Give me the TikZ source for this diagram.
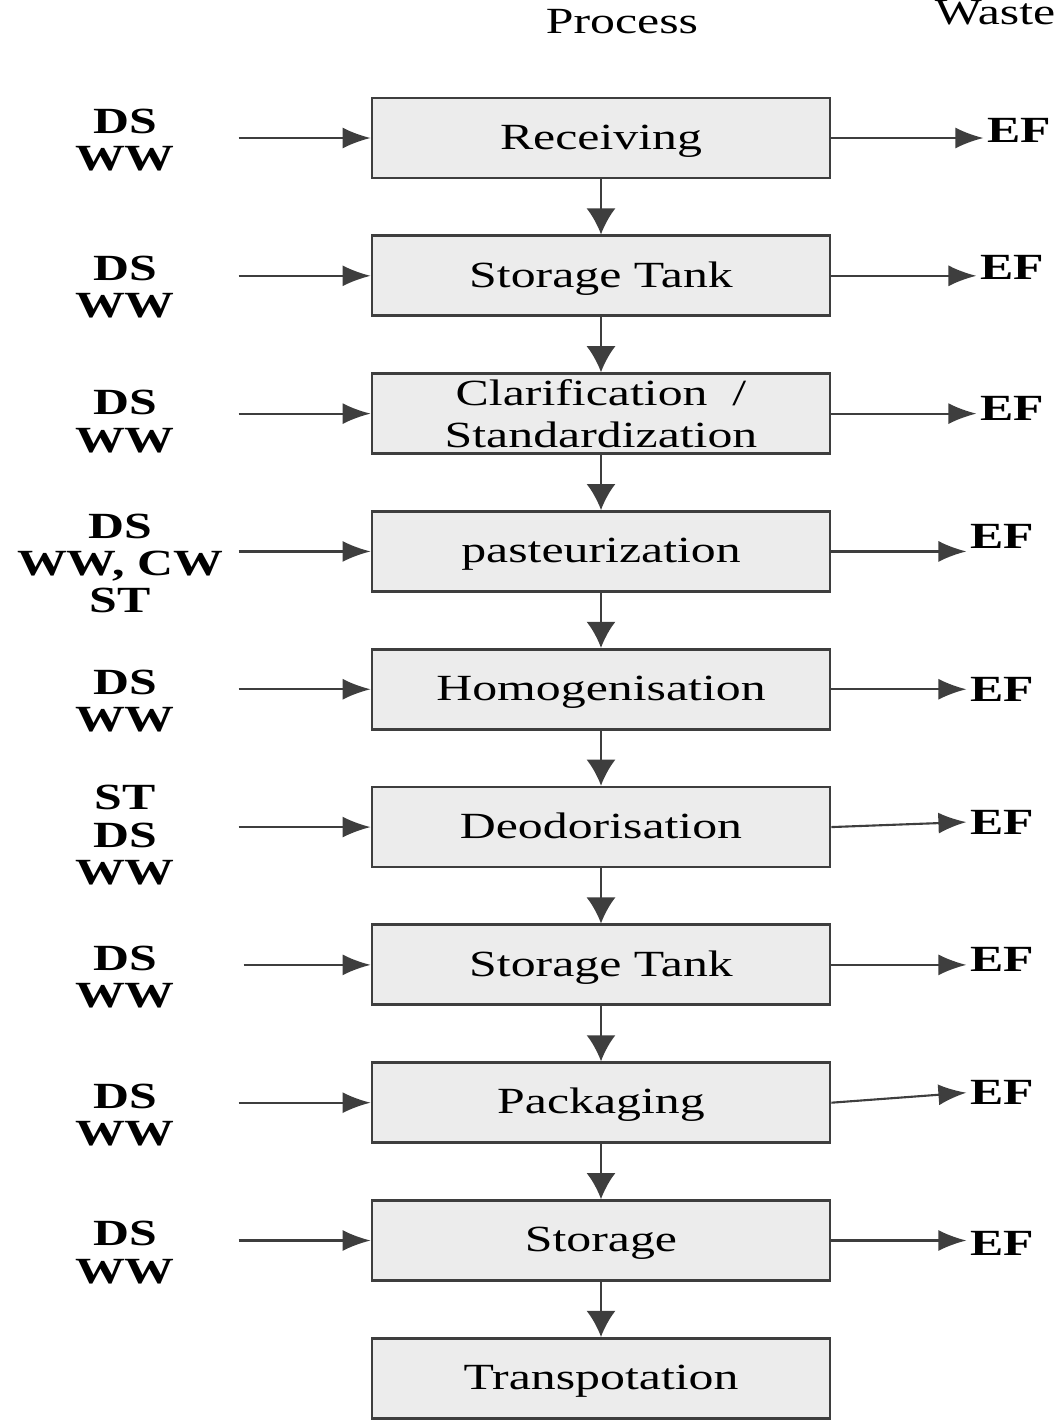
\documentclass[tikz,border=0pt]{standalone}
\usepackage{fontspec}
\setmainfont{Liberation Serif}[FakeStretch=1.35]
\usepackage{tikz}
\usetikzlibrary{arrows.meta,positioning,calc}
\definecolor{edge}{HTML}{3E3E3E}
\definecolor{boxfill}{HTML}{ECECEC}
\tikzset{
  proc/.style={draw=edge,thick,fill=boxfill,minimum width=4.58cm,minimum height=0.8cm,
    align=center,inner sep=2pt,text height=6.8pt,text depth=0.4pt,
    font=\fontsize{10.5}{12.2}\selectfont},
  tag/.style={align=center,inner sep=1pt,font=\fontsize{10.5}{10.6}\selectfont\bfseries},
  head/.style={inner sep=1pt,font=\fontsize{10.5}{12}\selectfont},
  arr/.style={-{Latex[length=2.8mm,width=2.1mm]},semithick,color=edge},
  down/.style={-{Latex[length=2.6mm,width=2.9mm]},semithick,color=edge}
}

\begin{document}
\begin{tikzpicture}[node distance=5.5mm]
  \useasboundingbox (0,0) rectangle (10.62,-14.2);
  \clip (0,0) rectangle (10.62,-14.2);
  \node[head] at (6.22,-0.22) {Process};
  \node[head] at (9.95,-0.13) {Waste};
  % process chain
  \node[proc] (recv) at (6.01,-1.38) {Receiving};
  \node[proc,below=of recv] (tank) {Storage Tank};
  \node[proc,below=of tank,inner ysep=0pt,text height={},text depth={}] (clar) {Clarification \ /\\Standardization};
  \node[proc,below=of clar] (past) {pasteurization};
  \node[proc,below=of past] (homo) {Homogenisation};
  \node[proc,below=of homo] (deod) {Deodorisation};
  \node[proc,below=of deod] (tankb) {Storage Tank};
  \node[proc,below=of tankb] (pack) {Packaging};
  \node[proc,below=of pack] (stor) {Storage};
  \node[proc,below=of stor] (trans) {Transpotation};
  \draw[down] (recv) -- (tank); \draw[down] (tank) -- (clar);
  \draw[down] (clar) -- (past); \draw[down] (past) -- (homo);
  \draw[down] (homo) -- (deod); \draw[down] (deod) -- (tankb);
  \draw[down] (tankb) -- (pack); \draw[down] (pack) -- (stor);
  \draw[down] (stor) -- (trans);
  % inputs
  \node[tag] (in1) at ([xshift=-4.76cm,yshift=-0.02cm]recv.center) {DS\\WW};
  \node[tag] (in2) at ([xshift=-4.76cm,yshift=-0.11cm]tank.center) {DS\\WW};
  \node[tag] (in3) at ([xshift=-4.76cm,yshift=-0.08cm]clar.center) {DS\\WW};
  \node[tag] (in4) at ([xshift=-4.81cm,yshift=-0.12cm]past.center) {DS\\WW, CW\\ST};
  \node[tag] (in5) at ([xshift=-4.76cm,yshift=-0.12cm]homo.center) {DS\\WW};
  \node[tag] (in6) at ([xshift=-4.76cm,yshift=-0.08cm]deod.center) {ST\\DS\\WW};
  \node[tag] (in7) at ([xshift=-4.76cm,yshift=-0.12cm]tankb.center) {DS\\WW};
  \node[tag] (in8) at ([xshift=-4.76cm,yshift=-0.12cm]pack.center) {DS\\WW};
  \node[tag] (in9) at ([xshift=-4.76cm,yshift=-0.12cm]stor.center) {DS\\WW};
  \coordinate (a1) at ([xshift=-1.32cm]recv.west);
  \coordinate (a2) at ([xshift=-1.32cm]tank.west);
  \coordinate (a3) at ([xshift=-1.32cm]clar.west);
  \coordinate (a4) at ([xshift=-1.32cm]past.west);
  \coordinate (a5) at ([xshift=-1.32cm]homo.west);
  \coordinate (a6) at ([xshift=-1.32cm]deod.west);
  \coordinate (a7) at ([xshift=-1.27cm]tankb.west);
  \coordinate (a8) at ([xshift=-1.32cm]pack.west);
  \coordinate (a9) at ([xshift=-1.32cm]stor.west);
  \draw[arr] (a1) -- (recv); \draw[arr] (a2) -- (tank); \draw[arr] (a3) -- (clar);
  \draw[arr] (a4) -- (past); \draw[arr] (a5) -- (homo); \draw[arr] (a6) -- (deod);
  \draw[arr] (a7) -- (tankb); \draw[arr] (a8) -- (pack); \draw[arr] (a9) -- (stor);
  % effluents
  \node[tag,anchor=west] (ef1) at ([xshift=1.52cm,yshift=0.08cm]recv.east) {EF};
  \node[tag,anchor=west] (ef2) at ([xshift=1.45cm,yshift=0.08cm]tank.east) {EF};
  \node[tag,anchor=west] (ef3) at ([xshift=1.45cm,yshift=0.05cm]clar.east) {EF};
  \node[tag,anchor=west] (ef4) at ([xshift=1.35cm,yshift=0.15cm]past.east) {EF};
  \node[tag,anchor=west] (ef5) at ([xshift=1.35cm]homo.east) {EF};
  \node[tag,anchor=west] (ef6) at ([xshift=1.35cm,yshift=0.05cm]deod.east) {EF};
  \node[tag,anchor=west] (ef7) at ([xshift=1.35cm,yshift=0.05cm]tankb.east) {EF};
  \node[tag,anchor=west] (ef8) at ([xshift=1.35cm,yshift=0.1cm]pack.east) {EF};
  \node[tag,anchor=west] (ef9) at ([xshift=1.35cm,yshift=-0.03cm]stor.east) {EF};
  \draw[arr] (recv) -- (recv.east -| ef1.west);
  \draw[arr] (tank) -- (tank.east -| ef2.west);
  \draw[arr] (clar) -- (clar.east -| ef3.west);
  \draw[arr] (past) -- (past.east -| ef4.west);
  \draw[arr] (homo) -- (homo.east -| ef5.west);
  \draw[arr] (deod.east) -- (ef6.west);
  \draw[arr] (tankb) -- (tankb.east -| ef7.west);
  \draw[arr] (pack.east) -- (ef8.west);
  \draw[arr] (stor) -- (stor.east -| ef9.west);
\end{tikzpicture}
\end{document}
